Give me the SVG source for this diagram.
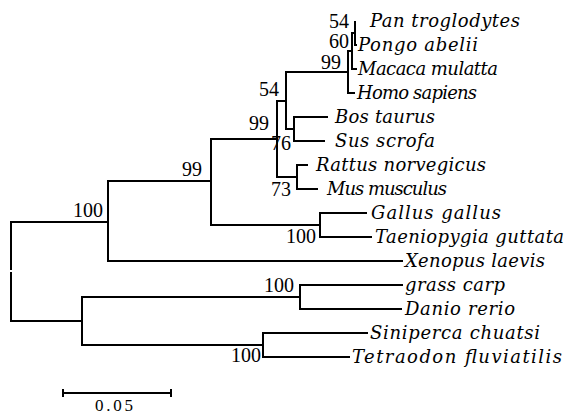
<svg xmlns="http://www.w3.org/2000/svg" width="566" height="415" viewBox="0 0 566 415">
  <style>
    .br { fill: none; stroke: #000; stroke-width: 2; stroke-linejoin: miter; stroke-linecap: butt; }
    .taxon { font-family: "DejaVu Serif", "Liberation Serif", serif; font-style: italic; font-size: 18px; fill: #000; }
    .bs { font-family: "Liberation Serif", "DejaVu Serif", serif; font-size: 20px; fill: #000; text-anchor: end; }
  </style>
  <rect width="566" height="415" fill="#fff"/>

  <!-- branches: each path runs from a parent node down/up to a child, then out to it -->
  <g id="connectors" class="br">
    <path d="M11 270 V222 H108"/>
    <path d="M11 272 V321 H82"/>
    <path d="M108 222 V181 H211"/>
    <path d="M108 222 V261 H403"/>
    <path d="M211 181 V139 H277"/>
    <path d="M211 181 V225 H320"/>
    <path d="M320 225 V213 H367"/>
    <path d="M320 225 V237 H372"/>
    <path d="M277 139 V101 H286"/>
    <path d="M277 139 V177 H297"/>
    <path d="M297 177 V165 H308"/>
    <path d="M297 177 V189 H318"/>
    <path d="M286 101 V72 H348"/>
    <path d="M286 101 V129 H294"/>
    <path d="M294 129 V117 H328"/>
    <path d="M294 129 V141 H325"/>
    <path d="M348 72 V51 H352"/>
    <path d="M348 72 V93 H355"/>
    <path d="M352 51 V33 H355"/>
    <path d="M352 51 V69 H357"/>
    <path d="M355 33 V21"/>
    <path d="M355 33 V45 H357"/>
    <path d="M82 321 V297 H300"/>
    <path d="M82 321 V345 H263"/>
    <path d="M300 297 V285 H403"/>
    <path d="M300 297 V309 H402"/>
    <path d="M263 345 V333 H368"/>
    <path d="M263 345 V357 H350"/>
  </g>

  <!-- internal nodes with bootstrap values -->
  <g id="node-tetrapoda"><text class="bs" x="103" y="217">100</text></g>
  <g id="node-amniota"><text class="bs" x="202" y="176">99</text></g>
  <g id="node-aves"><text class="bs" x="316" y="243">100</text></g>
  <g id="node-mammalia"><text class="bs" x="269" y="130">99</text></g>
  <g id="node-boreo"><text class="bs" x="279" y="96">54</text></g>
  <g id="node-ungulata"><text class="bs" x="291" y="150">76</text></g>
  <g id="node-rodentia"><text class="bs" x="291" y="196">73</text></g>
  <g id="node-primates"><text class="bs" x="341" y="69">99</text></g>
  <g id="node-hominoid"><text class="bs" x="349" y="48">60</text></g>
  <g id="node-pan-pongo"><text class="bs" x="349" y="28">54</text></g>
  <g id="node-cyprinid"><text class="bs" x="294" y="292">100</text></g>
  <g id="node-percomorph"><text class="bs" x="261" y="362">100</text></g>

  <!-- leaves -->
  <g id="leaf-pan"><text class="taxon" x="370" y="27" textLength="150">Pan troglodytes</text></g>
  <g id="leaf-pongo"><text class="taxon" x="358" y="51" textLength="120">Pongo abelii</text></g>
  <g id="leaf-macaca"><text class="taxon" x="358" y="75" textLength="140">Macaca mulatta</text></g>
  <g id="leaf-homo"><text class="taxon" x="357" y="99" textLength="120">Homo sapiens</text></g>
  <g id="leaf-bos"><text class="taxon" x="335" y="123" textLength="100">Bos taurus</text></g>
  <g id="leaf-sus"><text class="taxon" x="335" y="147" textLength="100">Sus scrofa</text></g>
  <g id="leaf-rattus"><text class="taxon" x="316" y="171" textLength="170">Rattus norvegicus</text></g>
  <g id="leaf-mus"><text class="taxon" x="327" y="195" textLength="120">Mus musculus</text></g>
  <g id="leaf-gallus"><text class="taxon" x="371" y="219" textLength="130">Gallus gallus</text></g>
  <g id="leaf-taeniopygia"><text class="taxon" x="375" y="243" textLength="189">Taeniopygia guttata</text></g>
  <g id="leaf-xenopus"><text class="taxon" x="405" y="267" textLength="140">Xenopus laevis</text></g>
  <g id="leaf-grass-carp"><text class="taxon" x="405" y="291" textLength="100">grass carp</text></g>
  <g id="leaf-danio"><text class="taxon" x="405" y="315" textLength="110">Danio rerio</text></g>
  <g id="leaf-siniperca"><text class="taxon" x="370" y="339" textLength="170">Siniperca chuatsi</text></g>
  <g id="leaf-tetraodon"><text class="taxon" x="352" y="363" textLength="210">Tetraodon fluviatilis</text></g>

  <!-- scale bar -->
  <g id="scale-bar">
    <path class="br" d="M63 393 H171 M63 389 V397 M171 389 V397"/>
    <text x="95" y="410.5" font-family="Liberation Serif, serif" font-size="17" textLength="38">0.05</text>
  </g>
</svg>
